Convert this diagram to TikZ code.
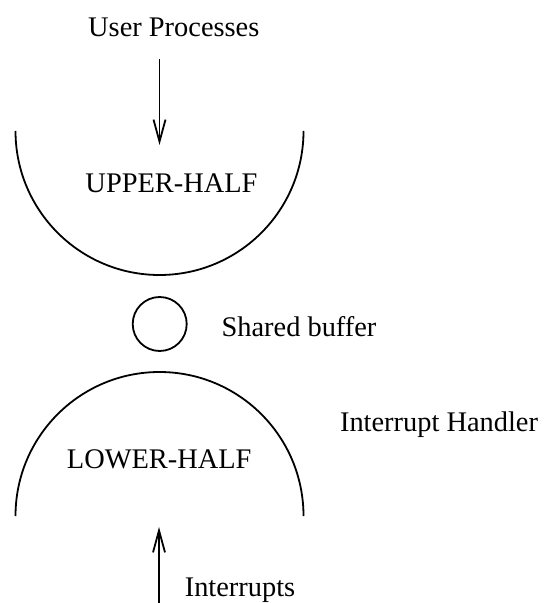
\documentclass[tikz,border=0pt]{standalone}
\usepackage{fontspec}
\setmainfont{Liberation Serif}
\usetikzlibrary{arrows.meta}
\begin{document}
\begin{tikzpicture}[>={Straight Barb[length=11pt,width=6pt]},x=0.5pt,y=-0.5pt,line width=0.9pt,
	every node/.style={font=\fontsize{14.2pt}{17pt}\selectfont}]
	\useasboundingbox (0,0) rectangle (543,603);
	%	\draw[color=gray,dash pattern=on 1pt off 1pt,step=50] (0,0) grid (543,603);
	\node[anchor=base] (users) at (173.8,36.5) {User Processes};
	\coordinate (uptop) at (159.5,59);
	\coordinate (uptip) at (159.5,145);
	\draw[->] (uptop) -- (uptip);
	\draw (15.5,131) arc[start angle=180,end angle=0,radius=144];
	\node[anchor=base] (upper) at (171.5,193) {UPPER-HALF};
	\node[draw,circle,minimum size=27pt,inner sep=0pt] (buf) at (159.7,324) {};
	\node[anchor=base] (shared) at (299,336) {Shared buffer};
	\node[anchor=base] (handler) at (439,431.5) {Interrupt Handler};
	\draw (15.5,516) arc[start angle=180,end angle=360,radius=144];
	\node[anchor=base] (lower) at (159.2,468) {LOWER-HALF};
	\coordinate (intbot) at (159,603);
	\coordinate (inttip) at (159,527);
	\draw[->] (intbot) -- (inttip);
	\node[anchor=base] (intr) at (240,596) {Interrupts};
\end{tikzpicture}
\end{document}
